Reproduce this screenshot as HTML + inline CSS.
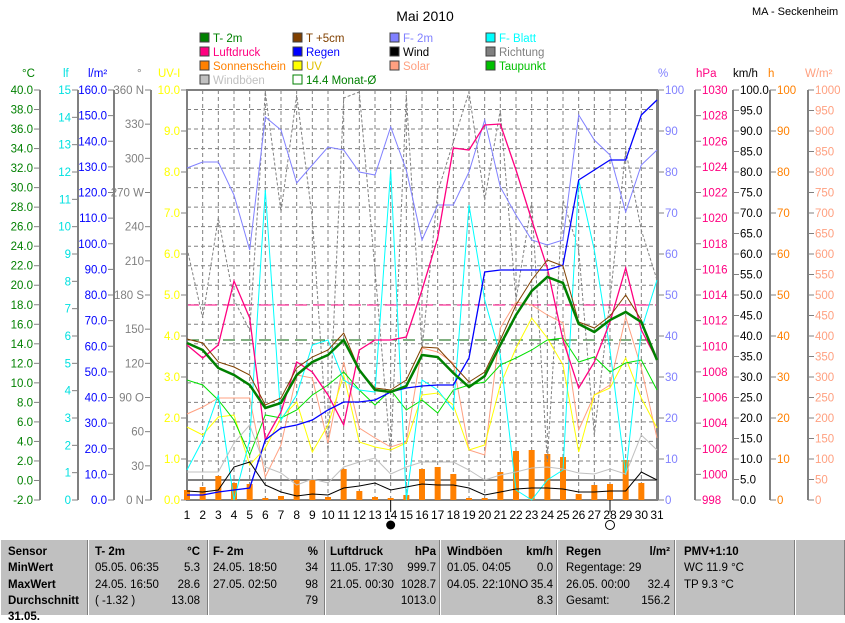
<!DOCTYPE html>
<html><head><meta charset="utf-8"><style>
body{margin:0;background:#fff;width:845px;height:615px;overflow:hidden;font-family:"Liberation Sans",sans-serif}
svg{position:absolute;left:0;top:0}
#tbl{position:absolute;left:0;top:540px;width:845px;height:75px;background:#c0c0c0;font-size:11.5px;font-family:"Liberation Sans",sans-serif}
.c{position:absolute;top:0;height:75px;border-left:1px solid #fff;border-right:1px solid #808080;box-sizing:border-box}
.r{position:absolute;white-space:nowrap}
</style></head><body>
<svg id="s" width="845" height="540" font-family="Liberation Sans, sans-serif" font-size="11.5"></svg>
<div id="tbl"></div>
<script>
const S=document.getElementById('s');let h='';
const X0=187,X1=657,Y0=90,Y1=500,dx=(X1-X0)/30;
const xd=i=>X0+(i-1)*dx;
function t(x,y,s,c,a,extra){h+=`<text x="${x}" y="${y}" fill="${c}" text-anchor="${a||'start'}" ${extra||''}>${s}</text>`}
function ln(x1,y1,x2,y2,c,w,d){h+=`<line x1="${x1}" y1="${y1}" x2="${x2}" y2="${y2}" stroke="${c}" stroke-width="${w||1}" ${d?`stroke-dasharray="${d}"`:''}/>`}
t(425,21,'Mai 2010','#000','middle','font-size="14"');
t(752,15,'MA - Seckenheim','#000','start','font-size="11"');
const L=[[200,42,'T- 2m','#008000'],[293,42,'T +5cm','#804000'],[390,42,'F- 2m','#8080ff'],[486,42,'F- Blatt','#00ffff'],
[200,56,'Luftdruck','#ff0080'],[293,56,'Regen','#0000ff'],[390,56,'Wind','#000'],[486,56,'Richtung','#808080'],
[200,70,'Sonnenschein','#ff8000'],[293,70,'UV','#ffff00'],[390,70,'Solar','#ffa080'],[486,70,'Taupunkt','#00c000'],
[200,84,'Windböen','#c0c0c0']];
L.forEach(l=>{h+=`<rect x="${l[0]}" y="${l[1]-9}" width="9" height="9" fill="${l[3]}" stroke="#404040" stroke-width="1"/>`;
t(l[0]+13,l[1],l[2],l[3]=='#ffff00'?'#e0c000':l[3])});
h+=`<rect x="293" y="75" width="9" height="9" fill="none" stroke="#008000"/>`;t(306,84,'14.4 Monat-Ø','#008000');
for(let k=1;k<21;k++){let y=Y0+k*410/21;ln(X0,y,X1,y,'#808080',1,'4,3')}
for(let i=2;i<31;i++)ln(xd(i),Y0,xd(i),Y1,'#808080',1,'4,3');
ln(X0,480,X1,480,'#808080',2);
ln(X0,305,X1,305,'#ff0080',1,'12,6');
ln(X0,340,X1,340,'#006000',1,'12,6');
h+=`<rect x="${X0}" y="${Y0}" width="${X1-X0}" height="${Y1-Y0}" fill="none" stroke="#808080" stroke-width="2"/>`;
function axis(x,lo,hi,st,c,left,lab,fmt){ln(x,Y0,x,Y1,'#808080',2);
 for(let v=lo;v<=hi+1e-9;v+=st){let y=Y1-(v-lo)/(hi-lo)*410;
  if(left){ln(x-6,y,x,y,'#808080');t(x-7,y+4,fmt(v),c,'end')}else{ln(x,y,x+6,y,'#808080');t(x+7,y+4,fmt(v),c)}}}
axis(40,-2,40,2,'#008000',1,'',v=>v.toFixed(1));
axis(78,0,15,1,'#00e0e0',1,'',v=>''+Math.round(v));
axis(114,0,160,10,'#0000ff',1,'',v=>v.toFixed(1));
axis(151,0,360,30,'#808080',1,'',v=>({360:'360 N',270:'270 W',180:'180 S',90:'90 O',0:'0 N'})[Math.round(v)]||''+Math.round(v));
axis(187,0,10,1,'#ffff00',1,'',v=>v.toFixed(1));
axis(658,0,100,10,'#8080ff',0,'',v=>''+Math.round(v));
axis(695,998,1030,2,'#ff0080',0,'',v=>''+Math.round(v));
axis(733,0,100,5,'#000',0,'',v=>v.toFixed(1));
axis(770,0,100,10,'#ff8000',0,'',v=>''+Math.round(v));
axis(808,0,1000,50,'#ffa080',0,'',v=>''+Math.round(v));
[[22,'°C','#008000'],[63,'lf','#00e0e0'],[88,'l/m²','#0000ff'],[137,'°','#808080'],[158,'UV-I','#ffff00'],[658,'%','#8080ff'],[696,'hPa','#ff0080'],[733,'km/h','#000'],[768,'h','#ff8000'],[805,'W/m²','#ffa080']].forEach(a=>t(a[0],77,a[1],a[2]));
const bars=[490,487,476,483,484,498,496,480,480,497,469,491,497,498,495,469,467,474,498,498,472,451,450,454,457,494,485,484,460,483];
bars.forEach((b,i)=>{h+=`<rect x="${xd(i+1)-3}" y="${b}" width="6" height="${500-b}" fill="#ff8000"/>`});
function pl(a,c,w,d){h+=`<polyline fill="none" stroke="${c}" stroke-width="${w}" ${d?`stroke-dasharray="${d}"`:''} points="${a.map((y,i)=>xd(i+1).toFixed(1)+','+y).join(' ')}"/>`}
pl([248,318,218,300,330,92,212,95,218,452,98,92,270,455,95,350,192,142,92,200,110,300,202,462,200,250,435,300,150,230,280],'#808080',1,'3,2');
pl([414,407,398,398,398,477,445,375,378,443,362,428,438,447,442,348,352,363,450,455,328,302,305,315,323,430,395,385,317,368,438],'#ffa080',1);
pl([427,435,417,415,465,448,418,402,452,425,375,442,447,450,443,395,393,405,450,445,385,348,318,338,365,452,395,388,358,398,428],'#ffff00',1);
pl([380,385,400,420,455,415,418,410,395,385,372,390,405,390,410,400,413,390,385,382,365,358,350,340,338,362,357,372,363,360,390],'#00e000',1);
pl([470,440,395,500,440,190,420,395,345,340,380,390,392,170,500,380,390,410,205,300,355,490,500,480,470,180,250,350,475,330,280],'#00ffff',1);
pl([168,162,162,195,250,117,130,183,165,147,150,172,175,127,170,240,205,205,172,120,187,215,240,245,240,115,140,155,212,165,150],'#8080ff',1);
pl([345,358,345,281,318,440,412,362,372,395,425,350,340,340,337,290,238,148,150,125,124,170,220,268,340,388,362,322,268,330,360],'#ff0080',1.3);
pl([495,495,492,490,488,440,428,425,420,410,402,402,400,392,388,386,385,385,358,272,270,270,270,270,265,180,170,160,160,115,100],'#0000ff',1.3);
pl([472,472,472,443,425,467,473,485,479,483,467,462,458,474,467,462,462,462,470,480,475,472,468,467,469,473,474,469,474,435,450],'#c0c0c0',1);
pl([491,492,490,467,462,485,492,496,494,495,488,486,483,490,487,484,485,485,488,495,492,489,488,488,489,492,492,491,491,472,480],'#000',1);
pl([339,343,362,367,375,405,398,368,357,350,333,370,388,390,380,347,348,365,382,372,340,305,280,260,266,322,328,316,295,320,360],'#804000',1);
pl([343,350,368,375,385,408,403,375,362,355,340,370,390,392,386,355,357,373,387,376,345,315,291,277,283,324,332,320,312,322,360],'#008000',2.5);
for(let i=1;i<=31;i++)t(xd(i),519,i,'#000','middle','font-size="12"');
ln(xd(14),500,xd(14),512,'#000');ln(xd(28),500,xd(28),512,'#000');
h+=`<circle cx="${xd(14)}" cy="525" r="4.5" fill="#000"/><circle cx="${xd(28)}" cy="525" r="4.5" fill="none" stroke="#000"/>`;
S.innerHTML=h;
const cols=[0,88,208,325,440,557,675,795,845];
let T='';for(let i=0;i<8;i++)T+=`<div class="c" style="left:${cols[i]}px;width:${cols[i+1]-cols[i]}px"></div>`;
const rows=[12,28,45,61,77];
function r(x,y,s,b,right){T+=`<div class="r" style="${right?'right:'+(845-x):'left:'+x}px;top:${y}px;${b?'font-weight:bold':''}">${s}</div>`}
['Sensor','MinWert','MaxWert','Durchschnitt','31.05.'].forEach((s,k)=>r(8,rows[k]-6,s,1));
const D=[[95,'T- 2m','°C',200,[['05.05.  06:35','5.3'],['24.05.  16:50','28.6'],['( -1.32 )','13.08']]],
[213,'F- 2m','%',318,[['24.05.  18:50','34'],['27.05.  02:50','98'],['','79']]],
[330,'Luftdruck','hPa',436,[['11.05.  17:30','999.7'],['21.05.  00:30','1028.7'],['','1013.0']]],
[447,'Windböen','km/h',553,[['01.05.  04:05','0.0'],['04.05.  22:10NO','35.4'],['','8.3']]],
[566,'Regen','l/m²',670,[['Regentage: 29',''],['26.05.  00:00','32.4'],['Gesamt:','156.2']]]];
D.forEach(d=>{r(d[0],rows[0]-6,d[1],1);r(d[3],rows[0]-6,d[2],1,1);d[4].forEach((p,k)=>{r(d[0],rows[k+1]-6,p[0]);r(d[3],rows[k+1]-6,p[1],0,1)})});
r(684,6,'PMV+1:10',1);r(684,22,'WC 11.9 °C');r(684,39,'TP 9.3 °C');
document.getElementById('tbl').innerHTML=T;
</script></body></html>
